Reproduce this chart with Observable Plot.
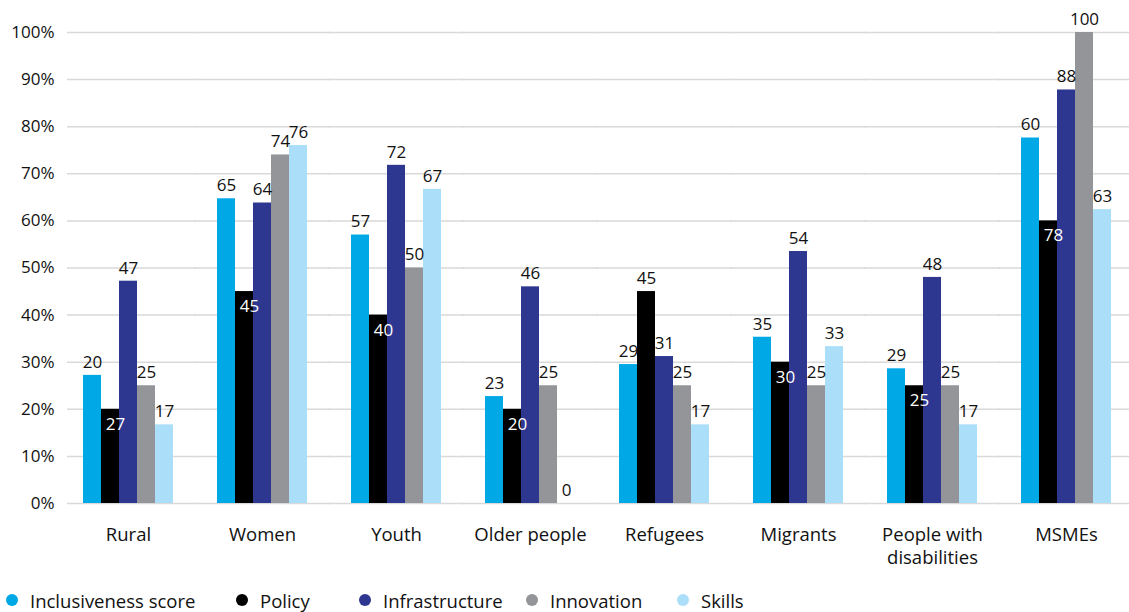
<!DOCTYPE html>
<html>
<head>
<meta charset="utf-8">
<script src="https://cdn.jsdelivr.net/npm/d3@7"></script>
<script src="https://cdn.jsdelivr.net/npm/@observablehq/plot@0.6"></script>
<style>
  body { margin: 0; background: #fff; font-family: "Open Sans", sans-serif; }
  #legend { position: relative; height: 30px; margin-top: 5px; font-size: 18.5px; color: #111; }
  .item { position: absolute; top: 0; height: 30px; display: flex; align-items: center; }
  .item:nth-child(1) { left: 6px; }
  .item:nth-child(2) { left: 236px; }
  .item:nth-child(3) { left: 359px; }
  .item:nth-child(4) { left: 526px; }
  .item:nth-child(5) { left: 677px; }
  .dot { width: 12px; height: 12px; border-radius: 50%; margin-right: 12px; }
</style>
</head>
<body>
<div id="chart"></div>
<div id="legend"></div>
<script>
const categories = ["Rural", "Women", "Youth", "Older people", "Refugees", "Migrants", "People with disabilities", "MSMEs"];
const series = ["Inclusiveness score", "Policy", "Infrastructure", "Innovation", "Skills"];
const colors = ["#00a9e6", "#000000", "#2d3790", "#939598", "#abdff9"];

// bar heights (%)
const inclusiveness = [27.2, 64.7, 57.0, 22.7, 29.5, 35.3, 28.6, 77.6];
const policy        = [20, 45, 40, 20, 45, 30, 25, 60];
const infrastructure= [47.2, 63.8, 71.8, 46.0, 31.2, 53.5, 48.0, 87.8];
const innovation    = [25, 74, 50, 25, 25, 25, 25, 100];
const skills        = [16.7, 76, 66.7, 0, 16.7, 33.3, 16.7, 62.4];

// printed labels
const inclusivenessLabel = ["20", "65", "57", "23", "29", "35", "29", "60"];
const policyLabel        = ["27", "45", "40", "20", "45", "30", "25", "78"];
const infrastructureLabel= ["47", "64", "72", "46", "31", "54", "48", "88"];
const innovationLabel    = ["25", "74", "50", "25", "25", "25", "25", "100"];
const skillsLabel        = ["17", "76", "67", "0", "17", "33", "17", "63"];

const yTicks = [0, 10, 20, 30, 40, 50, 60, 70, 80, 90, 100];

const values = [inclusiveness, policy, infrastructure, innovation, skills];
const labels = [inclusivenessLabel, policyLabel, infrastructureLabel, innovationLabel, skillsLabel];

const rows = [];
categories.forEach((c, i) => {
  const groupMax = d3.max(values, v => v[i]);
  series.forEach((s, j) => {
    rows.push({category: c, series: s, value: values[j][i], label: labels[j][i],
      inside: s === "Policy" && values[j][i] < groupMax});
  });
});

const gridFirst = yTicks.map(t => ({category: categories[0], t}));
const gridRest = categories.slice(1).flatMap(c => yTicks.map(t => ({category: c, t})));

const chart = Plot.plot({
  width: 1129,
  height: 580,
  marginLeft: 65,
  marginRight: 0,
  marginTop: 32,
  marginBottom: 77,
  style: {fontFamily: "'Open Sans', sans-serif", color: "#111"},
  fx: {domain: categories, paddingInner: 0.302, paddingOuter: 0.104, label: null},
  x: {domain: series, padding: 0, axis: null},
  y: {domain: [0, 100], label: null, axis: null},
  color: {domain: series, range: colors},
  marks: [
    Plot.ruleY(gridFirst, {fx: "category", y: "t", stroke: "#d9d9d9", strokeWidth: 1.5, insetLeft: -14, insetRight: -21}),
    Plot.ruleY(gridRest, {fx: "category", y: "t", stroke: "#d9d9d9", strokeWidth: 1.5, insetLeft: -21, insetRight: -21}),
    Plot.axisY({ticks: yTicks, tickFormat: d => d + "%", tickSize: 0, tickPadding: 27, fontSize: 17, label: null}),
    Plot.axisFx({anchor: "bottom", tickSize: 0, tickPadding: 21, fontSize: 18.5, lineHeight: 1.25, label: null,
      tickFormat: d => d === "People with disabilities" ? "People with\ndisabilities" : d}),
    Plot.barY(rows, {fx: "category", x: "series", y: "value", fill: "series", insetLeft: 0, insetRight: 0}),
    Plot.text(rows.filter(d => !d.inside), {fx: "category", x: "series", y: "value", text: "label", dy: -13, fontSize: 17, fill: "#111"}),
    Plot.text(rows.filter(d => d.inside), {fx: "category", x: "series", y: "value", text: "label", dy: 15, dx: 5, fontSize: 17, fill: "#fff"})
  ]
});
document.getElementById("chart").appendChild(chart);

const legend = document.getElementById("legend");
series.forEach((s, j) => {
  const it = document.createElement("div");
  it.className = "item";
  it.innerHTML = `<span class="dot" style="background:${colors[j]}"></span><span>${s}</span>`;
  legend.appendChild(it);
});
</script>
</body>
</html>
